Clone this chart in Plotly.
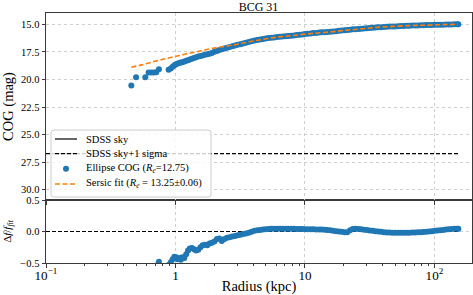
import plotly.graph_objects as go

# ---------------- data ----------------
radius = [0.456, 0.496, 0.585, 0.62, 0.65, 0.68, 0.71, 0.745, 0.885, 0.92, 0.95, 0.98,
          1.01, 1.04, 1.07, 1.10, 1.13, 1.17, 1.21, 1.25, 1.29, 1.34, 1.39, 1.44, 1.50,
          1.56, 1.62, 1.69, 1.76, 1.83, 1.91, 2.00, 2.09, 2.18, 2.28, 2.39, 2.50, 2.62,
          2.75, 2.88, 3.02, 3.17, 3.33, 3.50, 3.68, 3.87, 4.07, 4.28, 4.50, 4.73, 4.97,
          5.23, 5.50, 5.78, 6.08, 6.39, 6.72, 7.07, 7.43, 7.81, 8.21, 8.63, 9.08, 9.54,
          10.0, 10.5, 11.1, 11.6, 12.2, 12.9, 13.5, 14.2, 14.9, 15.7, 16.5, 17.4, 18.3,
          19.2, 20.2, 21.2, 22.3, 23.4, 24.6, 25.9, 27.2, 28.6, 30.1, 31.6, 33.3, 35.0,
          36.8, 38.7, 40.7, 42.8, 45.0, 47.3, 49.7, 52.3, 55.0, 57.8, 60.8, 63.9, 67.2,
          70.7, 74.3, 78.1, 82.1, 86.3, 90.8, 95.4, 100.3, 105.5, 110.9, 116.6, 122.6,
          128.9, 135.5, 142.5, 149.8, 153.0]

cog_mag = [20.55, 19.80, 19.80, 19.38, 19.38, 19.36, 19.34, 19.08, 19.12, 19.00, 18.85, 18.72,
           18.62, 18.55, 18.50, 18.46, 18.43, 18.38, 18.31, 18.25, 18.20, 18.13, 18.05, 17.98, 17.93,
           17.88, 17.83, 17.77, 17.71, 17.66, 17.60, 17.50, 17.42, 17.33, 17.26, 17.19, 17.12, 17.06,
           16.98, 16.92, 16.86, 16.80, 16.73, 16.67, 16.60, 16.53, 16.47, 16.42, 16.37, 16.33, 16.29,
           16.25, 16.22, 16.19, 16.16, 16.13, 16.10, 16.08, 16.06, 16.04, 16.01, 15.98, 15.95, 15.92,
           15.89, 15.86, 15.83, 15.80, 15.78, 15.75, 15.73, 15.71, 15.69, 15.67, 15.65, 15.62, 15.59,
           15.56, 15.54, 15.52, 15.50, 15.46, 15.44, 15.42, 15.40, 15.38, 15.36, 15.34, 15.31, 15.29,
           15.27, 15.26, 15.24, 15.23, 15.21, 15.20, 15.19, 15.17, 15.16, 15.15, 15.14, 15.13, 15.12,
           15.11, 15.10, 15.09, 15.08, 15.07, 15.07, 15.06, 15.05, 15.04, 15.04, 15.03, 15.02,
           15.01, 15.01, 15.00, 14.99, 14.99]

residual = [-0.78, -0.59, -0.67, -0.56, -0.56, -0.55, -0.54, -0.48, -0.53, -0.49, -0.44, -0.40,
            -0.41, -0.44, -0.42, -0.45, -0.41, -0.42, -0.36, -0.30, -0.27, -0.26, -0.28, -0.30, -0.29,
            -0.25, -0.22, -0.21, -0.22, -0.19, -0.18, -0.16, -0.12, -0.11, -0.15, -0.12, -0.10, -0.09,
            -0.08, -0.07, -0.06, -0.05, -0.04, -0.03, -0.02, -0.005, 0.01, 0.02, 0.025, 0.03, 0.035,
            0.04, 0.042, 0.045, 0.045, 0.045, 0.044, 0.045, 0.043, 0.044, 0.042, 0.04, 0.04, 0.038,
            0.036, 0.035, 0.034, 0.034, 0.032, 0.031, 0.03, 0.028, 0.025, 0.02, 0.012, 0.005, 0.0,
            -0.005, -0.01, -0.01, 0.02, 0.04, 0.045, 0.04, 0.035, 0.028, 0.022, 0.016, 0.01, 0.005,
            0.0, -0.005, -0.01, -0.014, -0.017, -0.019, -0.02, -0.021, -0.021, -0.02, -0.02, -0.018, -0.016,
            -0.014, -0.012, -0.01, -0.007, -0.004, 0.0, 0.005, 0.01, 0.015, 0.02, 0.025, 0.03,
            0.035, 0.04, 0.043, 0.045, 0.045]

fit_radius = [0.456, 0.55, 0.70, 0.85, 1.03, 1.2, 1.42, 1.7, 2.03, 2.4, 2.73, 3.16, 3.89, 4.7,
              5.55, 6.6, 7.91, 10.1, 12.5, 16.1, 19.2, 22.9, 28.0, 34.7, 45.0, 62.5, 80.0,
              100.0, 125.0, 152.0]
fit_mag = [18.89, 18.68, 18.34, 18.10, 17.88, 17.70, 17.52, 17.32, 17.14, 16.99, 16.89, 16.76,
           16.54, 16.37, 16.23, 16.12, 16.03, 15.89, 15.79, 15.68, 15.57, 15.50, 15.40, 15.29,
           15.21, 15.12, 15.09, 15.05, 15.02, 15.00]

line_radius = [0.1, 155.0]
sky_mag = [31.6, 31.6]
sky_1sigma_mag = [26.73, 26.73]
zero_res = [0.0, 0.0]

title = "BCG 31"
legend_labels = ["SDSS sky", "SDSS sky+1 sigma",
                 "Ellipse COG (<i>R<sub>e</sub></i>=12.75)",
                 "Sersic fit (<i>R<sub>e</sub></i> = 13.25±0.06)"]

# ---------------- figure ----------------
FONT = "Liberation Serif, Times New Roman, serif"
BLUE = "#1f77b4"
ORANGE = "#ff7f0e"
GRID = "#cfcfcf"
SPINE = "#3a3a3a"
BLACK_DASH = "4px,2px"
ORANGE_DASH = "5px,2.5px"
MSIZE = 6

W, H = 473, 295
ML, MR, MT, MB = 46, 1, 13, 32
PW, PH = W - ML - MR, H - MT - MB


def px_x(px):
    return (px - ML) / PW


def px_y(py):
    return (H - MB - py) / PH


fig = go.Figure()

fig.add_trace(go.Scatter(x=line_radius, y=sky_mag, mode="lines", name=legend_labels[0],
                         line=dict(color="black", width=1.2), xaxis="x2", yaxis="y2"))
fig.add_trace(go.Scatter(x=line_radius, y=sky_1sigma_mag, mode="lines", name=legend_labels[1],
                         line=dict(color="black", width=1.2, dash=BLACK_DASH), xaxis="x2", yaxis="y2"))
fig.add_trace(go.Scatter(x=radius, y=cog_mag, mode="markers", name=legend_labels[2],
                         marker=dict(color=BLUE, size=MSIZE, line=dict(width=0)), xaxis="x2", yaxis="y2"))
fig.add_trace(go.Scatter(x=fit_radius, y=fit_mag, mode="lines", name=legend_labels[3],
                         line=dict(color=ORANGE, width=1.6, dash=ORANGE_DASH, shape="spline"),
                         xaxis="x2", yaxis="y2"))

fig.add_trace(go.Scatter(x=line_radius, y=zero_res, mode="lines", showlegend=False,
                         line=dict(color="black", width=1.2, dash=BLACK_DASH), xaxis="x", yaxis="y"))
fig.add_trace(go.Scatter(x=radius, y=residual, mode="markers", showlegend=False,
                         marker=dict(color=BLUE, size=MSIZE, line=dict(width=0)), xaxis="x", yaxis="y"))

axis_common = dict(showline=True, linecolor=SPINE, linewidth=1, mirror=True,
                   showgrid=True, gridcolor=GRID, griddash="dot", gridwidth=1,
                   ticks="outside", ticklen=3.5, tickcolor=SPINE, tickwidth=1,
                   zeroline=False, tickfont=dict(family=FONT, size=10.5, color="black"))

# ---- legend drawn in matplotlib style (compact rows) ----
bx0, bx1, by0, by1 = px_x(51), px_x(211), px_y(197), px_y(130)
rx, ry = 3 / PW, 3 / PH
box_path = (f"M {bx0+rx},{by0} L {bx1-rx},{by0} Q {bx1},{by0} {bx1},{by0+ry} "
            f"L {bx1},{by1-ry} Q {bx1},{by1} {bx1-rx},{by1} L {bx0+rx},{by1} "
            f"Q {bx0},{by1} {bx0},{by1-ry} L {bx0},{by0+ry} Q {bx0},{by0} {bx0+rx},{by0} Z")
shapes = [dict(type="path", path=box_path, xref="paper", yref="paper", layer="above",
               fillcolor="rgba(255,255,255,0.8)", line=dict(color="#cccccc", width=1))]
row_y = [139, 153.7, 168.7, 184]
sample_styles = [dict(color="black", width=1.2), dict(color="black", width=1.2, dash=BLACK_DASH),
                 None, dict(color=ORANGE, width=1.6, dash=ORANGE_DASH)]
for ry_px, st in zip(row_y, sample_styles):
    if st is None:
        shapes.append(dict(type="circle", xref="paper", yref="paper", layer="above",
                           x0=px_x(66 - MSIZE / 2), x1=px_x(66 + MSIZE / 2),
                           y0=px_y(ry_px + MSIZE / 2), y1=px_y(ry_px - MSIZE / 2),
                           fillcolor=BLUE, line=dict(width=0)))
    else:
        shapes.append(dict(type="line", xref="paper", yref="paper", layer="above",
                           x0=px_x(55), x1=px_x(77), y0=px_y(ry_px), y1=px_y(ry_px), line=st))
annotations = [dict(text=lab, x=px_x(84), y=px_y(ry_px), xref="paper", yref="paper",
                    xanchor="left", yanchor="middle", showarrow=False,
                    font=dict(family=FONT, size=10.5, color="black"))
               for lab, ry_px in zip(legend_labels, row_y)]

fig.update_layout(
    width=W, height=H,
    margin=dict(l=ML, r=MR, t=MT, b=MB),
    paper_bgcolor="white", plot_bgcolor="white",
    font=dict(family=FONT, color="black"),
    showlegend=False,
    shapes=shapes, annotations=annotations,
    title=dict(text=title, x=0.5465, xanchor="center", y=0.978, yanchor="middle",
               font=dict(family=FONT, size=12, color="black")),
    xaxis=dict(type="log", range=[-1, 2.29], dtick=1, exponentformat="power",
               domain=[0, 1], anchor="y", ticklabelstandoff=-3,
               minor=dict(ticks="outside", ticklen=2, tickcolor=SPINE, dtick="D1", showgrid=False),
               title=dict(text="Radius (kpc)", font=dict(family=FONT, size=14.5), standoff=2),
               automargin=False, **axis_common),
    yaxis=dict(range=[-0.5, 0.5], dtick=0.5, tickformat=".1f", domain=[0, 0.252], anchor="x",
               title=dict(text="Δ<i>f</i>/<i>f<sub>fit</sub></i>", font=dict(family=FONT, size=11),
                          standoff=6),
               automargin=False, **axis_common),
    xaxis2=dict(type="log", range=[-1, 2.29], dtick=1, matches="x", showticklabels=False,
                domain=[0, 1], anchor="y2", automargin=False, **axis_common),
    yaxis2=dict(range=[30.93, 13.976], dtick=2.5, tick0=15, tickformat=".1f",
                domain=[0.252, 1], anchor="x2",
                title=dict(text="COG (mag)", font=dict(family=FONT, size=14.5), standoff=6),
                automargin=False, **axis_common),
)

fig.write_html("out.html", config={"displayModeBar": False},
               post_script="document.body.style.margin='0';document.body.style.overflow='hidden';")
